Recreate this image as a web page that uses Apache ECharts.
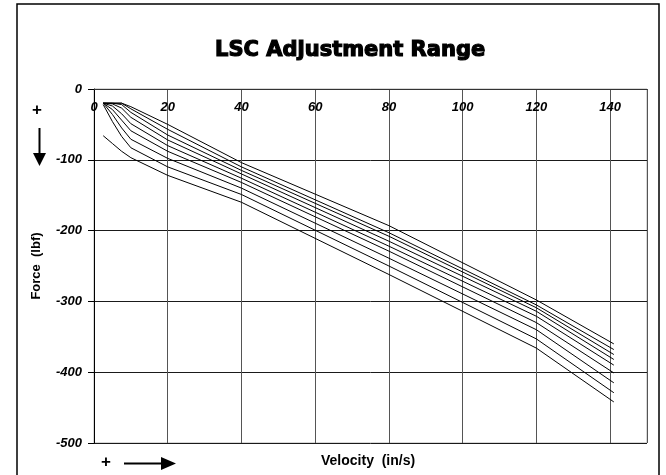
<!DOCTYPE html>
<html>
<head>
<meta charset="utf-8">
<script src="https://cdn.jsdelivr.net/npm/echarts@6/dist/echarts.min.js"></script>
<style>
  html, body { margin: 0; padding: 0; background: #fff; }
  #chart { width: 666px; height: 475px; }
</style>
</head>
<body>
<div id="chart"></div>
<script>
// velocity points (in/s), shared by every curve
var velocity = [2.5, 5, 7.5, 10, 20, 40, 80, 120, 141];

// force (lbf) for each adjustment setting
var setting1 = [-20, -20, -20, -25, -50, -104, -193, -298, -360];
var setting2 = [-20, -20, -20, -28, -57, -110, -203, -305, -368];
var setting3 = [-20, -20, -22, -33, -65, -115, -208, -309, -375];
var setting4 = [-20, -21, -27, -40, -72, -120, -215, -314, -382];
var setting5 = [-20, -24, -35, -49, -80, -126, -222, -321, -390];
var setting6 = [-20, -29, -44, -59, -88, -132, -229, -330, -401];
var setting7 = [-20, -36, -55, -71, -98, -140, -239, -340, -415];
var setting8 = [-22, -46, -67, -83, -110, -149, -250, -353, -429];
var setting9 = [-66, -77, -88, -97, -122, -160, -262, -366, -442];

var settings = [setting1, setting2, setting3, setting4, setting5,
                setting6, setting7, setting8, setting9];

var xTicks = [0, 20, 40, 60, 80, 100, 120, 140];

var labelFont = {
  fontFamily: "Liberation Sans",
  fontWeight: "bold",
  fontStyle: "italic",
  fontSize: 13,
  color: "#000"
};

var myChart = echarts.init(document.getElementById("chart"));

myChart.setOption({
  animation: false,
  backgroundColor: "#fff",
  title: {
    text: "LSC Adjustment Range",
    left: 210,
    top: 35,
    textStyle: {
      fontFamily: "DejaVu Sans",
      fontWeight: "bold",
      fontSize: 21,
      color: "#000",
      textBorderColor: "#000",
      textBorderWidth: 1.2
    }
  },
  grid: {
    left: 94,
    top: 89,
    width: 553,
    height: 354,
    show: true,
    borderColor: "#b0b0b0",
    borderWidth: 1
  },
  xAxis: {
    type: "value",
    position: "top",
    min: 0,
    max: 150,
    interval: 20,
    axisLine: { show: true, lineStyle: { color: "#333", width: 1 } },
    axisTick: { show: false },
    splitLine: { show: true, lineStyle: { color: "#555", width: 1 } },
    axisLabel: Object.assign({
      inside: true,
      margin: 12,
      formatter: function (v) {
        return xTicks.indexOf(v) >= 0 ? String(v) : "";
      }
    }, labelFont)
  },
  yAxis: {
    type: "value",
    min: -500,
    max: 0,
    interval: 100,
    name: "Force  (lbf)",
    nameLocation: "middle",
    nameGap: 51,
    nameRotate: 90,
    nameTextStyle: {
      fontFamily: "Liberation Sans",
      fontWeight: "bold",
      fontSize: 13,
      color: "#000"
    },
    axisLine: { show: true, onZero: false, lineStyle: { color: "#000", width: 1 } },
    axisTick: { show: true, length: 6, lineStyle: { color: "#000" } },
    splitLine: { show: true, lineStyle: { color: "#1a1a1a", width: 1 } },
    axisLabel: Object.assign({ margin: 12 }, labelFont)
  },
  series: settings.map(function (vals, i) {
    return {
      name: "Setting " + (i + 1),
      type: "line",
      showSymbol: false,
      symbol: "none",
      lineStyle: { color: "#000", width: 1 },
      data: velocity.map(function (v, j) { return [v, vals[j]]; })
    };
  }),
  graphic: [
    // outer frame
    {
      type: "rect",
      shape: { x: 17, y: 4, width: 642, height: 490 },
      style: { fill: null, stroke: "#000", lineWidth: 1.5 },
      silent: true
    },
    // left "+" and downward arrow
    {
      type: "text",
      left: 32, top: 102,
      style: { text: "+", font: "bold 17px Liberation Sans", fill: "#000" }
    },
    {
      type: "line",
      shape: { x1: 39.5, y1: 128, x2: 39.5, y2: 154 },
      style: { stroke: "#000", lineWidth: 2 }
    },
    {
      type: "polygon",
      shape: { points: [[33, 153], [46, 153], [39.5, 166]] },
      style: { fill: "#000" }
    },
    // bottom "+" and right arrow
    {
      type: "text",
      left: 101, top: 454,
      style: { text: "+", font: "bold 17px Liberation Sans", fill: "#000" }
    },
    {
      type: "line",
      shape: { x1: 124, y1: 463.5, x2: 162, y2: 463.5 },
      style: { stroke: "#000", lineWidth: 2 }
    },
    {
      type: "polygon",
      shape: { points: [[161, 457], [161, 470], [176, 463.5]] },
      style: { fill: "#000" }
    },
    // x axis name
    {
      type: "text",
      left: 321, top: 454,
      style: { text: "Velocity  (in/s)", font: "bold 14px Liberation Sans", fill: "#000" }
    }
  ]
});
</script>
</body>
</html>
